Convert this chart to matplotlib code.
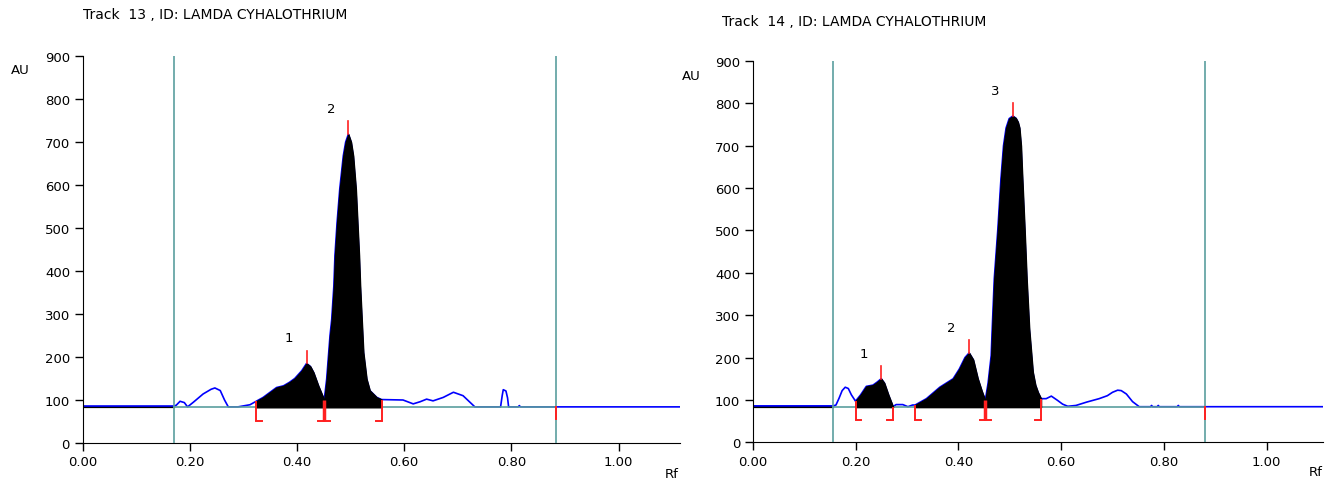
import numpy as np
import matplotlib.pyplot as plt

plt.rcParams['font.family'] = ['DejaVu Sans']

# =============================================================================
# Data
# =============================================================================

# Track 13
rf_13 = [0.0, 0.171, 0.175, 0.182, 0.190, 0.196, 0.207, 0.225, 0.240, 0.247, 0.257,
         0.265, 0.272, 0.290, 0.3125, 0.324, 0.337, 0.350, 0.362, 0.375, 0.386, 0.396,
         0.409, 0.418, 0.425, 0.431, 0.440, 0.451, 0.4556, 0.4618, 0.465, 0.469, 0.471,
         0.475, 0.480, 0.4866, 0.491, 0.496, 0.501, 0.505, 0.510, 0.513, 0.516, 0.518,
         0.521, 0.524, 0.530, 0.536, 0.549, 0.558, 0.598, 0.617, 0.630, 0.642, 0.654,
         0.673, 0.692, 0.710, 0.732, 0.780, 0.783, 0.785, 0.790, 0.793, 0.795, 0.813,
         0.815, 0.817, 0.883, 1.115]
au_13 = [86, 86, 88, 97, 94, 84, 95, 114, 125, 128, 122,
         100, 84, 84, 89, 97, 106, 118, 129, 133, 141, 150,
         168, 185, 178, 164, 133, 100, 149, 250, 288, 366, 436,
         513, 591, 668, 700, 718, 700, 668, 591, 513, 436, 366,
         288, 211, 149, 122, 106, 101, 100, 91, 96, 102, 98,
         106, 118, 110, 84, 84, 110, 124, 121, 105, 84, 84,
         87, 84, 84, 84]
bounds_13 = [0.324, 0.451, 0.558]
kinds_13 = ['start', 'both', 'end']
peaks_13 = [0.418, 0.496]
lines_13 = [0.171, 0.883]

# Track 14
rf_14 = [0.0, 0.157, 0.162, 0.168, 0.174, 0.180, 0.186, 0.192, 0.199, 0.200, 0.210,
         0.221, 0.234, 0.242, 0.250, 0.256, 0.264, 0.273, 0.279, 0.292, 0.302, 0.311,
         0.316, 0.338, 0.364, 0.390, 0.402, 0.413, 0.421, 0.429, 0.438, 0.446, 0.4525,
         0.458, 0.464, 0.466, 0.470, 0.477, 0.483, 0.488, 0.493, 0.499, 0.506, 0.512,
         0.516, 0.519, 0.522, 0.524, 0.529, 0.533, 0.538, 0.545, 0.550, 0.555, 0.561,
         0.571, 0.581, 0.587, 0.593, 0.603, 0.613, 0.629, 0.650, 0.674, 0.690, 0.700,
         0.710, 0.717, 0.727, 0.739, 0.752, 0.774, 0.776, 0.778, 0.787, 0.789, 0.791,
         0.826, 0.828, 0.830, 0.880, 1.110]
au_14 = [86, 86, 88, 104, 122, 130, 127, 112, 99, 97, 112,
         132, 135, 142, 150, 140, 112, 84, 89, 89, 84, 88,
         88, 103, 130, 150, 173, 200, 211, 195, 150, 120, 99,
         140, 205, 268, 386, 504, 622, 700, 742, 764, 770, 765,
         756, 742, 700, 640, 504, 386, 268, 166, 135, 118, 103,
         103, 109, 104, 99, 90, 85, 87, 95, 103, 110, 118,
         123, 122, 114, 96, 84, 84, 87, 84, 84, 87, 84,
         84, 87, 84, 84, 84]
bounds_14 = [0.200, 0.273, 0.316, 0.4525, 0.561]
kinds_14 = ['start', 'end', 'start', 'both', 'end']
peaks_14 = [0.250, 0.421, 0.506]
lines_14 = [0.157, 0.880]

baseline = 83

# =============================================================================
# Graf
# =============================================================================

teal = '#5a9e9e'
red = '#ff2020'
blue = '#0000ff'

fig = plt.figure(figsize=(13.41, 4.81), dpi=100)
ax1 = fig.add_axes([82.5/1341, 1-444/481, (680-82.5)/1341, (444-57)/481])
ax2 = fig.add_axes([752.7/1341, 1-443.3/481, (1323-752.7)/1341, (443.3-62)/481])


def draw_track(ax, rf, au, bounds, kinds, peaks, lines, xmax):
    rf = np.array(rf)
    au = np.array(au, dtype=float)
    ax.set_xlim(0, xmax)
    ax.set_ylim(0, 900)

    # curve + baselines
    ax.plot(rf, au, color=blue, lw=1.2, zorder=2)
    ax.plot([0, lines[0]], [baseline, baseline], color='black', lw=1.6, zorder=1)
    ax.plot(lines, [baseline, baseline], color=teal, lw=1.2, zorder=3)
    for xl in lines:
        ax.axvline(xl, color=teal, lw=1.2, zorder=3)

    # integrated peaks (start..end pairs)
    for a, b, k in zip(bounds[:-1], bounds[1:], kinds[:-1]):
        if k == 'end':
            continue
        m = (rf >= a - 1e-9) & (rf <= b + 1e-9)
        ax.fill_between(rf[m], baseline, au[m], facecolor='black', edgecolor='black',
                        lw=1.0, zorder=4)

    # brackets
    foot = 0.011
    for b, k in zip(bounds, kinds):
        top = np.interp(b, rf, au)
        ax.plot([b, b], [52, top], color=red, lw=2.5 if k == 'both' else 1.4,
                zorder=5, solid_capstyle='butt')
        if k in ('start', 'both'):
            ax.plot([b, b + foot], [52, 52], color=red, lw=1.4, zorder=5)
        if k in ('end', 'both'):
            ax.plot([b - foot, b], [52, 52], color=red, lw=1.4, zorder=5)
    ax.plot([lines[1], lines[1]], [baseline, 56], color=red, lw=1.4, zorder=5)

    # peak ticks and numbers
    for i, p in enumerate(peaks):
        h = np.interp(p, rf, au)
        ax.plot([p, p], [h, h + 30], color=red, lw=1.2, zorder=5)
        ax.annotate(str(i + 1), (p, h), xytext=(-12.5, 18.5), textcoords='offset points',
                    ha='center', va='center', fontsize=9.5)

    ax.set_xticks([0, 0.2, 0.4, 0.6, 0.8, 1.0])
    ax.set_xticklabels(['0.00', '0.20', '0.40', '0.60', '0.80', '1.00'])
    ax.set_yticks(range(0, 1000, 100))
    ax.spines['top'].set_visible(False)
    ax.spines['right'].set_visible(False)
    ax.tick_params(direction='out', length=6, width=1, labelsize=9.5, pad=3)


draw_track(ax1, rf_13, au_13, bounds_13, kinds_13, peaks_13, lines_13, (680-82.5)/536)
draw_track(ax2, rf_14, au_14, bounds_14, kinds_14, peaks_14, lines_14, (1323-752.7)/514)

fig.text(83/1341, 1-15/481, 'Track  13 , ID: LAMDA CYHALOTHRIUM', fontsize=10, va='center')
fig.text(722/1341, 1-22/481, 'Track  14 , ID: LAMDA CYHALOTHRIUM', fontsize=10, va='center')
fig.text(20/1341, 1-71/481, 'AU', fontsize=9.5, ha='center', va='center')
fig.text(691/1341, 1-76/481, 'AU', fontsize=9.5, ha='center', va='center')
fig.text(672/1341, 1-475/481, 'Rf', fontsize=9.5, ha='center', va='center')
fig.text(1316/1341, 1-473/481, 'Rf', fontsize=9.5, ha='center', va='center')

fig.savefig('out.png', dpi=100)
